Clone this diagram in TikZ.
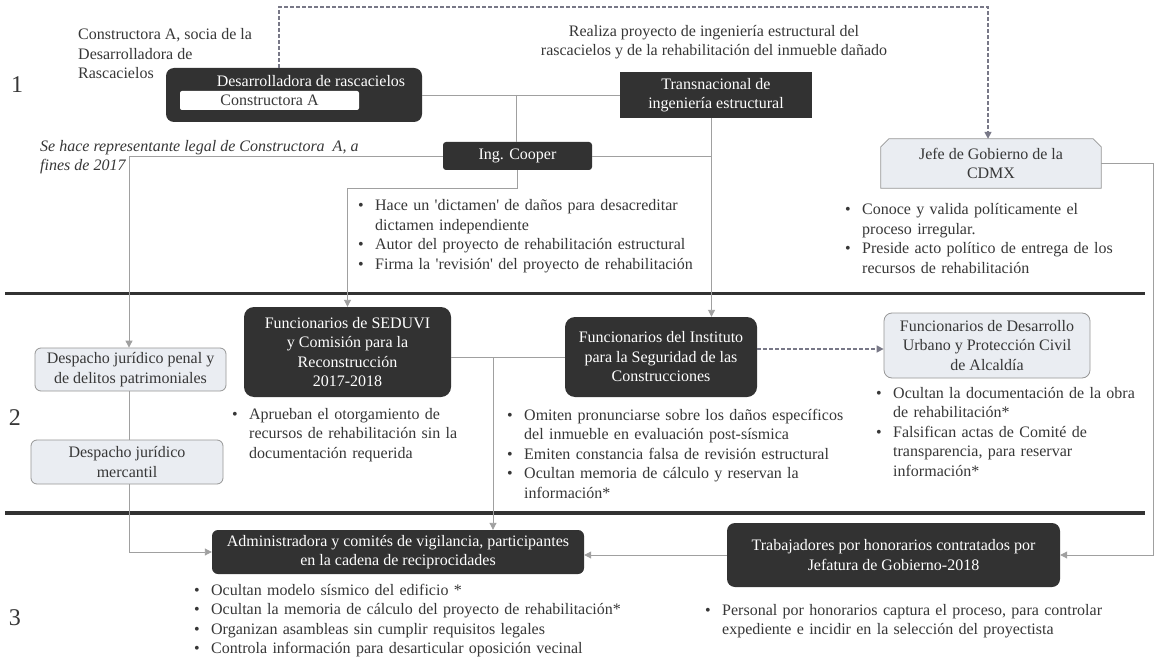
\documentclass[tikz,border=0pt]{standalone}
\usepackage{fontspec}
\setmainfont{Liberation Serif}
\usetikzlibrary{arrows.meta,backgrounds}
\definecolor{txt}{RGB}{55,55,55}
\definecolor{dk}{RGB}{50,50,50}
\definecolor{lt}{RGB}{234,237,242}
\definecolor{ltd}{RGB}{150,150,150}
\definecolor{lc}{RGB}{160,160,160}
\definecolor{dc}{RGB}{120,120,135}
\newcommand\bul[1]{\noindent\hangindent=17pt\hangafter=1\makebox[17pt][l]{\textbullet}#1\par}
\begin{document}
\begin{tikzpicture}[x=1pt,y=-1pt,
  every node/.style={font=\fontsize{16}{19.5}\selectfont, text=txt},
  darkbox/.style={fill=dk, text=white, rounded corners=8pt, align=center, inner sep=2pt},
  lightbox/.style={fill=lt, draw=ltd, line width=0.8pt, rounded corners=6pt, align=center, inner sep=2pt},
  conn/.style={draw=lc, line width=0.9pt},
  arr/.style={-{Triangle[length=7pt,width=7pt]}},
  dashc/.style={draw=dc, line width=1.5pt, dash pattern=on 4pt off 2pt},
  blist/.style={anchor=base west, inner sep=0pt, text width=430pt, align=left},
  lbl/.style={inner sep=0pt, anchor=base west, align=left},
  num/.style={font=\fontsize{24}{28}\selectfont, inner sep=0pt},
  sepline/.style={draw=dk, line width=3.5pt}
]
\useasboundingbox (0,0) rectangle (1158,660);

% numbers
\node[num] (n1) at (17,85) {1};
\node[num] (n2) at (15,418) {2};
\node[num] (n3) at (15,618) {3};

% separators
\draw[sepline] (5,293.5) -- (1145,293.5);
\draw[sepline] (5,513) -- (1145,513);

% level 1
\node[darkbox, minimum width=256pt, minimum height=54pt] (des) at (294,95) {};
\node[inner sep=0pt, text=white, anchor=base] (desT) at (311,87) {Desarrolladora de rascacielos};
\node[fill=white, rounded corners=2pt, minimum width=179pt, minimum height=19pt, inner sep=0pt] (con) at (269.5,100.5) {Constructora A};
\node[darkbox, rounded corners=0pt, minimum width=192pt, minimum height=46pt] (trans) at (716,95) {Transnacional de\\ingeniería estructural};
\node[darkbox, rounded corners=3pt, minimum width=149pt, minimum height=28pt] (coop) at (517.5,156) {Ing. Cooper};
\node[align=center, minimum width=220pt, minimum height=49pt, inner sep=2pt] (jefe) at (991,163.5) {Jefe de Gobierno de la\\CDMX};

\node[lbl] (ann1) at (78,79) {Constructora A, socia de la\\Desarrolladora de\\Rascacielos};
\node[lbl, font={\fontsize{16}{19.5}\selectfont\itshape}] (ital) at (40,171) {Se hace representante legal de Constructora~ A, a\\fines de 2017};
\node[inner sep=0pt, anchor=base, align=center] (real) at (714,56) {Realiza proyecto de ingeniería estructural del\\rascacielos y de la rehabilitación del inmueble dañado};

\node[blist] (lcoop) at (358,211) {\bul{Hace un \textquotesingle dictamen\textquotesingle{} de daños para desacreditar\newline dictamen independiente}\bul{Autor del proyecto de rehabilitación estructural}\bul{Firma la \textquotesingle revisión\textquotesingle{} del proyecto de rehabilitación}};
\node[blist] (ljefe) at (845,215) {\bul{Conoce y valida políticamente el\newline proceso irregular.}\bul{Preside acto político de entrega de los\newline recursos de rehabilitación}};

% level 2
\node[lightbox, minimum width=191pt, minimum height=43pt] (pen) at (130.5,369.5) {Despacho jurídico penal y\\de delitos patrimoniales};
\node[lightbox, minimum width=192pt, minimum height=44pt] (mer) at (127,462) {Despacho jurídico\\mercantil};
\node[darkbox, rounded corners=10pt, minimum width=207pt, minimum height=90pt] (sed) at (347.5,352) {Funcionarios de SEDUVI\\y Comisión para la\\Reconstrucción\\2017-2018};
\node[darkbox, rounded corners=10pt, minimum width=192pt, minimum height=80pt] (ins) at (661,357) {Funcionarios del Instituto\\para la Seguridad de las\\Construcciones};
\node[lightbox, rounded corners=8pt, minimum width=206pt, minimum height=65pt] (du) at (987,345.5) {Funcionarios de Desarrollo\\Urbano y Protección Civil\\de Alcaldía};

\node[blist] (lsed) at (232,419) {\bul{Aprueban el otorgamiento de\newline recursos de rehabilitación sin la\newline documentación requerida}};
\node[blist] (lins) at (507,420) {\bul{Omiten pronunciarse sobre los daños específicos\newline del inmueble en evaluación post-sísmica}\bul{Emiten constancia falsa de revisión estructural}\bul{Ocultan memoria de cálculo y reservan la\newline información*}};
\node[blist] (ldu) at (876,398) {\bul{Ocultan la documentación de la obra\newline de rehabilitación*}\bul{Falsifican actas de Comité de\newline transparencia, para reservar\newline información*}};

% level 3
\node[darkbox, rounded corners=6pt, minimum width=372pt, minimum height=44pt] (adm) at (398,552) {Administradora y comités de vigilancia, participantes\\en la cadena de reciprocidades};
\node[darkbox, rounded corners=8pt, minimum width=333pt, minimum height=64pt] (tra) at (893.5,555) {Trabajadores por honorarios contratados por\\Jefatura de Gobierno-2018};

\node[blist] (ladm) at (194,595) {\bul{Ocultan modelo sísmico del edificio *}\bul{Ocultan la memoria de cálculo del proyecto de rehabilitación*}\bul{Organizan asambleas sin cumplir requisitos legales}\bul{Controla información para desarticular oposición vecinal}};
\node[blist] (ltra) at (705,615) {\bul{Personal por honorarios captura el proceso, para controlar\newline expediente e incidir en la selección del proyectista}};

% background shapes
\begin{pgfonlayer}{background}
\fill[white] (0,0) rectangle (1158,660);
\draw[draw=ltd, fill=lt, line width=0.8pt] (jefe.south west) -- ([yshift=-8pt]jefe.north west) -- ([xshift=8pt]jefe.north west) -- ([xshift=-8pt]jefe.north east) -- ([yshift=-8pt]jefe.north east) -- (jefe.south east) -- cycle;
\end{pgfonlayer}

% coordinates
\coordinate (tv) at (711.5,0);
\coordinate (jn) at (516,95);
\coordinate (sv) at (493,357);
\coordinate (lv) at (129,0);
\coordinate (dtop) at (279,7);
\coordinate (dtop2) at (988,7);
\coordinate (rc) at (1153,0);
\coordinate (dy) at (0,349);

% connectors
\draw[dashc, arr] (des.north -| dtop) -- (dtop) -- (dtop2) -- (jefe.north -| dtop2);
\draw[conn] (des.east) -- (trans.west);
\draw[conn] (jn) -- (jn |- coop.north);
\draw[conn, arr] (coop.west) -| (lv |- pen.north);
\draw[conn] (lv |- pen.south) -- (lv |- mer.north);
\draw[conn, arr] (lv |- mer.south) |- (adm.west);
\draw[conn] (coop.east) -- (coop.east -| tv);
\draw[conn, arr] (tv |- trans.south) -- (tv |- ins.north);
\draw[conn, arr] (coop.south) -- ++(0,18) -| (sed.north);
\draw[conn] (sed.east |- sv) -- (ins.west |- sv);
\draw[conn, arr] (sv) -- (sv |- adm.north);
\draw[dashc, arr] (ins.east |- dy) -- (du.west |- dy);
\draw[conn, arr] (jefe.east) -| (rc |- tra.east) -- (tra.east);
\draw[conn, arr] (tra.west) -- (tra.west -| adm.east);
\end{tikzpicture}
\end{document}
